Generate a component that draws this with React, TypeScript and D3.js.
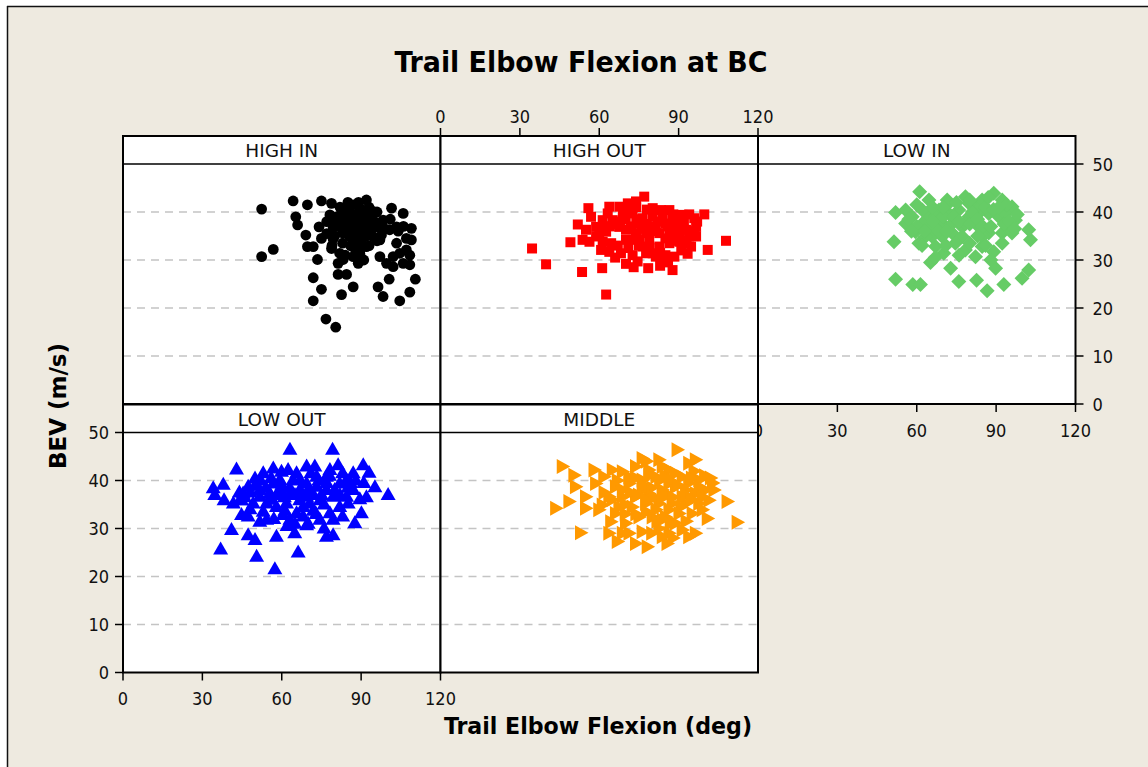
import React from "react";
import * as d3 from "d3";

const title = "Trail Elbow Flexion at BC";
const xTitle = "Trail Elbow Flexion (deg)";
const yTitle = "BEV (m/s)";
const xTicks = [0, 30, 60, 90, 120];
const yTicks = [0, 10, 20, 30, 40, 50];
const gridTicks = [10, 20, 30, 40];
const panelNames = ["HIGH IN", "HIGH OUT", "LOW IN", "LOW OUT", "MIDDLE"];
const panelColors = ["#000000", "#FF0000", "#66CC66", "#0000FF", "#FF9900"];
const panelShapes = ["circle", "square", "diamond", "triUp", "triRight"];

const highIn: [number, number][] = [
  [52.4, 40.6], [52.4, 30.7], [56.8, 32.2], [64.3, 42.3], [65.3, 39.0], [66.0, 37.3], [69.7, 41.5],
  [69.1, 35.2], [69.7, 32.8], [73.5, 30.1], [71.9, 26.3], [75.0, 23.9], [71.9, 21.5], [76.7, 17.7],
  [80.4, 16.0], [75.0, 42.3], [78.8, 41.8], [74.1, 36.9], [75.0, 34.5], [78.8, 32.4], [81.9, 31.4],
  [83.2, 30.1], [81.3, 27.0], [84.5, 27.0], [82.6, 22.8], [87.0, 24.4], [88.9, 29.3], [85.7, 41.1],
  [89.5, 40.8], [94.5, 40.1], [101.5, 40.8], [105.9, 39.7], [109.0, 36.6], [109.0, 34.2], [108.4, 31.0],
  [108.4, 29.0], [110.5, 26.0], [108.4, 23.3], [104.6, 21.5], [98.3, 22.4], [96.4, 24.4], [100.6, 26.0],
  [97.1, 30.7], [99.6, 29.3], [102.1, 28.6], [105.9, 29.3], [104.6, 31.4], [103.4, 33.5], [107.1, 34.5],
  [100.8, 36.3], [98.3, 38.3], [103.4, 36.9], [97.1, 34.2], [94.5, 34.9], [92.0, 32.8], [89.5, 31.4],
  [87.0, 32.8], [90.8, 35.6], [87.0, 36.3], [84.5, 37.6], [81.9, 36.9], [79.4, 36.9], [80.7, 39.0],
  [78.2, 39.4], [82.6, 40.4], [87.0, 39.0], [89.5, 37.6], [92.0, 38.3], [93.3, 36.3], [88.2, 34.5],
  [85.7, 34.9], [89.5, 33.5], [83.2, 35.6], [94.5, 38.3], [92.0, 39.7], [95.8, 36.9], [97.7, 35.2],
  [85.7, 39.7], [88.9, 39.7], [83.8, 39.0], [87.0, 30.7], [107.1, 32.1], [102.1, 30.7],
  [71.9, 32.8], [81.3, 29.3], [79.4, 34.4], [88.2, 37.0], [90.8, 37.0], [85.7, 36.3],
  [82, 38], [84, 38.5], [86, 38], [88, 38.5], [90, 38], [92, 37], [84, 36], [86, 35.5], [88, 35.5],
  [90, 34], [92, 35], [86, 33], [88, 32], [90, 32.5], [83, 33.5], [80, 35], [80, 38], [77, 38],
  [82, 41], [85, 42], [87, 41.5], [91, 40], [95, 37.5], [96, 34], [93, 33], [91, 30], [89, 30],
  [84, 31], [99, 36.5], [104, 36], [106, 37], [101, 38.5], [96, 40], [77, 35.5], [79, 33],
  [93, 41], [89, 42], [92, 42.5],
];

const highOut: [number, number][] = [
  [34.6, 32.4], [39.9, 29.1], [49.1, 33.7], [53.5, 27.5], [61.1, 28.3], [62.6, 22.8], [51.9, 37.4],
  [55.9, 40.8], [53.7, 34.2], [56.3, 33.8], [55.0, 36.3], [58.8, 36.9], [61.3, 38.3], [63.8, 41.1],
  [67.6, 41.1], [70.8, 41.8], [73.9, 42.2], [77.0, 43.2], [80.2, 40.8], [83.3, 40.4], [86.5, 40.4],
  [91.5, 39.4], [95.9, 38.7], [99.7, 39.5], [107.9, 34.0], [101.0, 32.1], [93.4, 31.3], [87.7, 27.9],
  [83.0, 28.8], [78.5, 28.3], [74.5, 29.7], [70.1, 29.2], [68.2, 31.4], [63.8, 31.7], [60.7, 32.1],
  [61.3, 33.8], [64.5, 33.5], [72.6, 31.0], [76.4, 32.8], [80.2, 31.4], [84.0, 30.7], [88.4, 30.7],
  [92.8, 33.5], [96.6, 34.9], [96.6, 36.9], [92.8, 36.3], [89.0, 36.9], [85.2, 37.6], [81.4, 36.9],
  [77.7, 35.6], [73.9, 35.6], [70.1, 36.3], [62.6, 35.9], [65.1, 38.3], [68.9, 39.0],
  [72.6, 39.7], [76.4, 38.7], [80.2, 39.0], [87.7, 38.7], [90.3, 33.8], [86.5, 33.5], [82.7, 32.8],
  [78.9, 34.2], [75.2, 34.2], [70.1, 34.2], [67.6, 36.9], [75.2, 37.6], [82.7, 35.6], [94.0, 34.9],
  [94.7, 32.8], [77.7, 31.4], [81.4, 30.7], [58.8, 34.9], [63.2, 39.7], [56.9, 39.0], [71.4, 40.4],
  [86.5, 35.6], [90.3, 35.6], [72.6, 34.2],
  [66, 37.5], [68, 38], [70, 38.5], [72, 37], [74, 38.5], [76, 36.5], [78, 37.5], [80, 36], [82, 38],
  [84, 39], [86, 37], [88, 35], [90, 37.5], [92, 38], [94, 36], [96, 35.5], [97, 38], [93, 34],
  [89, 34], [85, 34.5], [83, 31.5], [79, 32.5], [75, 33], [71, 32.5], [67, 33], [64, 37], [62, 37],
  [60, 35.5], [69, 40], [74, 41], [78, 40.5], [88, 39.5], [94, 39.5], [85, 31], [91, 32], [86, 29.5],
  [66, 30.5], [73, 28.5],
];

const lowIn: [number, number][] = [
  [61.1, 44.2], [89.1, 43.9], [52.0, 39.9], [51.4, 33.8], [52.0, 26.0], [58.5, 24.9], [61.4, 24.9],
  [65.2, 29.5], [72.8, 28.3], [75.9, 25.5], [82.6, 25.8], [86.6, 23.6], [92.9, 24.9], [89.8, 28.3],
  [99.8, 26.2], [102.3, 27.9], [103.0, 34.2], [102.3, 36.3], [97.3, 38.3], [96.0, 41.1], [92.3, 42.5],
  [78.4, 43.2], [71.5, 42.5], [64.6, 42.5], [55.8, 40.4], [55.8, 37.6], [59.5, 35.9], [60.8, 33.5],
  [67.1, 32.8], [70.2, 31.4], [78.4, 32.1], [82.2, 30.7], [84.7, 32.8], [89.1, 31.7], [92.3, 35.6],
  [96.0, 35.6], [87.2, 35.6], [83.5, 36.9], [79.7, 39.0], [75.9, 40.4], [72.1, 39.7], [68.4, 40.4],
  [64.6, 39.0], [62.1, 37.6], [65.8, 36.9], [69.6, 37.6], [73.4, 37.6], [77.2, 36.9], [73.4, 35.6],
  [69.6, 34.9], [65.8, 34.9], [77.2, 34.9], [84.7, 40.4], [82.2, 41.1], [87.2, 39.7],
  [91.0, 39.0], [93.5, 39.7], [92.3, 33.5], [84.7, 34.9], [74.6, 33.5], [63.3, 34.9], [58.3, 39.0],
  [62.1, 40.4], [72.1, 41.8], [84.7, 42.5], [79.7, 41.8], [94.8, 36.9], [67.1, 39.0], [78.4, 37.6],
  [57, 38.5], [60, 37], [63, 36], [66, 38], [68, 36], [70, 39], [71, 36], [74, 39], [76, 38],
  [80, 37.5], [81, 40], [83, 38.5], [85, 37], [86, 41], [88, 37], [89, 40.5], [93, 37.5],
  [95, 38], [97, 36.5], [98, 39.5], [94, 41.5], [91, 41], [87, 43], [80, 42.5], [75, 42], [70, 41],
  [66, 41], [60, 41.5], [58, 36], [62, 33], [67, 30.5], [71, 33], [76, 31], [80, 33.5], [86, 33],
  [88, 30], [83, 35],
];

const lowOut: [number, number][] = [
  [63.1, 46.4], [79.2, 46.4], [42.9, 42.3], [34.1, 38.4], [37.9, 39.1], [34.7, 37.0], [38.2, 35.9],
  [36.9, 25.6], [41.0, 29.7], [50.5, 24.1], [57.4, 21.5], [66.2, 25.0], [58.0, 28.3], [47.3, 28.6],
  [49.9, 27.6], [64.9, 29.0], [69.4, 30.7], [76.9, 28.3], [79.4, 28.6], [87.6, 31.1], [90.1, 33.2],
  [89.5, 36.1], [100.2, 37.0], [95.2, 38.6], [93.0, 41.6], [90.8, 43.2], [81.3, 43.2], [78.2, 42.2],
  [72.5, 42.9], [69.4, 42.9], [62.4, 42.2], [59.9, 41.8], [56.8, 42.5], [53.0, 41.5], [49.9, 40.4],
  [47.3, 38.7], [44.2, 35.9], [41.7, 35.2], [44.8, 32.8], [47.3, 32.5], [51.7, 31.4], [54.3, 31.8],
  [60.5, 32.8], [63.1, 31.8], [68.1, 32.5], [74.4, 31.8], [78.2, 33.2], [81.9, 34.5], [85.1, 35.2],
  [87.0, 38.0], [84.5, 40.1], [81.9, 39.4], [76.9, 38.0], [73.2, 38.7], [69.4, 39.4], [66.8, 38.0],
  [63.1, 37.3], [59.3, 38.0], [55.5, 37.3], [51.7, 36.6], [49.2, 35.2], [54.3, 35.2], [58.0, 34.5],
  [61.8, 35.2], [66.8, 35.9], [70.6, 35.2], [74.4, 35.9], [79.4, 36.6], [84.5, 36.6], [69.4, 36.6],
  [73.2, 40.8], [64.3, 40.1], [56.8, 39.4], [61.2, 33.7], [71.9, 33.7], [79.4, 31.8], [51.7, 38.0],
  [44.8, 35.9], [87.0, 41.5], [45.4, 37.3], [65.6, 41.5], [76.9, 40.8], [59.3, 40.1], [68.1, 34.5],
  [65.6, 33.2],
  [46, 36.5], [48, 37.5], [50, 39], [52, 40], [54, 38.5], [56, 36], [58, 37], [60, 39], [61, 36.5],
  [63, 38.5], [65, 37], [67, 40], [68, 37], [70, 38], [71, 41.5], [72, 37], [74, 40], [75, 37],
  [76, 35], [77, 39.5], [78, 41], [80, 38], [82, 37], [83, 41.5], [85, 38.5], [86, 39.5], [88, 40],
  [91, 39.5], [92, 36.5], [53, 33.5], [57, 32], [62, 30.5], [65, 31], [70, 31], [73, 33], [76, 30],
  [48, 34], [56, 40.5], [44, 37.5], [83, 32.5],
];

const middle: [number, number][] = [
  [89.6, 46.4], [46.2, 42.9], [43.7, 34.2], [48.7, 35.6], [53.1, 29.1], [50.6, 41.1], [51.2, 38.7],
  [55.0, 36.6], [55.0, 34.2], [58.2, 42.2], [60.0, 33.9], [63.8, 29.0], [67.0, 27.3], [64.5, 31.4],
  [73.9, 26.9], [78.3, 26.2], [85.8, 26.9], [86.5, 29.0], [96.5, 29.0], [94.0, 28.3], [101.0, 32.1],
  [108.5, 35.6], [112.3, 31.3], [102.2, 40.5], [96.5, 44.3], [94.0, 43.6], [82.7, 44.3], [76.4, 44.6],
  [73.9, 42.9], [68.9, 41.8], [65.1, 42.2], [61.9, 40.8], [58.8, 39.4], [66.3, 38.7], [71.4, 39.4],
  [76.4, 40.1], [81.6, 40.8], [86.5, 42.2], [91.5, 40.8], [97.8, 40.1], [100.3, 38.0], [96.5, 37.3],
  [92.8, 38.0], [89.0, 38.7], [84.0, 38.0], [78.9, 37.3], [73.9, 36.6], [68.9, 36.6], [63.8, 36.6],
  [67.6, 34.5], [72.6, 34.5], [77.7, 35.2], [82.7, 35.2], [87.7, 35.2], [92.8, 35.2], [97.8, 35.2],
  [101.6, 35.9], [95.3, 33.1], [90.3, 33.1], [85.2, 32.4], [80.2, 32.4], [75.2, 32.4], [70.1, 31.1],
  [71.4, 29.0], [76.4, 29.3], [82.7, 30.0], [91.5, 29.7], [89.0, 31.1], [84.0, 31.8], [66.3, 33.1],
  [61.3, 34.9], [71.4, 40.8], [78.9, 42.2], [84.0, 42.9], [76.4, 38.0], [86.5, 39.4], [81.6, 33.9],
  [86.5, 33.9], [91.5, 36.6], [103.5, 38.0], [99.1, 33.9], [68.9, 29.0], [84.0, 28.3],
  [62, 37.5], [65, 36], [67, 40], [69, 38], [70, 35], [72, 37.5], [74, 40.5], [75, 37], [77, 39],
  [78, 36], [79, 41], [80, 38.5], [81, 36.5], [83, 40], [84, 36.5], [85, 41], [86, 37], [87, 40],
  [88, 36.5], [89, 41.5], [90, 39], [91, 34.5], [93, 37], [94, 39.5], [95, 36], [96, 42], [98, 38.5],
  [99, 36.5], [74, 33], [78, 33.5], [82, 31.5], [87, 31], [93, 31.5], [80, 29], [88, 28], [70, 33],
  [95, 40.5], [100, 41], [103, 39.5], [78, 44],
];

const panelData = [highIn, highOut, lowIn, lowOut, middle];

const FONT = "'DejaVu Sans Condensed', 'DejaVu Sans', Tahoma, sans-serif";
const FONT_STRIP = "'DejaVu Sans', Tahoma, sans-serif";
const BG = "#EEEAE0";
const colX = [123, 440.5, 758];
const PW = 317.5;
const rowTop = [136, 404.5];
const STRIP = 28;
const PH = 240;

function markerPath(shape: string): string {
  switch (shape) {
    case "square":
      return "M-5,-5H5V5H-5Z";
    case "diamond":
      return "M0,-7.5L7.5,0L0,7.5L-7.5,0Z";
    case "triUp":
      return "M0,-8L7.5,5L-7.5,5Z";
    case "triRight":
      return "M-6,-7.5L7.5,0L-6,7.5Z";
    default:
      return "";
  }
}

function Panel({ idx }: { idx: number }) {
  const col = idx % 3;
  const row = Math.floor(idx / 3);
  const x0 = colX[col];
  const top = rowTop[row];
  const py0 = top + STRIP;
  const x = d3.scaleLinear().domain([0, 120]).range([x0, x0 + PW]);
  const y = d3.scaleLinear().domain([0, 50]).range([py0 + PH, py0]);
  const shape = panelShapes[idx];
  const color = panelColors[idx];
  return (
    <g>
      <rect x={x0} y={top} width={PW} height={STRIP + PH} fill="#fff" />
      {gridTicks.map((t) => (
        <line key={t} x1={x0} x2={x0 + PW} y1={y(t)} y2={y(t)} stroke="#C4C4C4" strokeWidth={1.5} strokeDasharray="8,6" />
      ))}
      {panelData[idx].map(([dx, dy], i) =>
        shape === "circle" ? (
          <circle key={i} cx={x(dx)} cy={y(dy)} r={5.4} fill={color} />
        ) : (
          <path key={i} d={markerPath(shape)} transform={`translate(${x(dx)},${y(dy)})`} fill={color} />
        )
      )}
      <line x1={x0} x2={x0 + PW} y1={py0} y2={py0} stroke="#000" strokeWidth={1.6} />
      <rect x={x0} y={top} width={PW} height={STRIP + PH} fill="none" stroke="#000" strokeWidth={2} />
      <text x={x0 + PW / 2} y={top + 21} textAnchor="middle" fontFamily={FONT_STRIP} fontSize={18.5} fill="#111">
        {panelNames[idx]}
      </text>
    </g>
  );
}

function XAxis({ col, yPos, dir }: { col: number; yPos: number; dir: number }) {
  const x = d3.scaleLinear().domain([0, 120]).range([colX[col], colX[col] + PW]);
  return (
    <g>
      {xTicks.map((t) => (
        <g key={t}>
          <line x1={x(t)} x2={x(t)} y1={yPos} y2={yPos + dir * 8} stroke="#000" strokeWidth={1.5} />
          <text x={x(t)} y={dir > 0 ? yPos + 32.5 : yPos - 13.5} textAnchor="middle" fontFamily={FONT} fontSize={18} fill="#111">
            {t}
          </text>
        </g>
      ))}
    </g>
  );
}

function YAxis({ row, xPos, dir }: { row: number; xPos: number; dir: number }) {
  const py0 = rowTop[row] + STRIP;
  const y = d3.scaleLinear().domain([0, 50]).range([py0 + PH, py0]);
  return (
    <g>
      {yTicks.map((t) => (
        <g key={t}>
          <line x1={xPos} x2={xPos + dir * 8} y1={y(t)} y2={y(t)} stroke="#000" strokeWidth={1.5} />
          <text
            x={dir > 0 ? xPos + 17 : xPos - 14}
            y={y(t) + 6.5}
            textAnchor={dir > 0 ? "start" : "end"}
            fontFamily={FONT}
            fontSize={18}
            fill="#111"
          >
            {t}
          </text>
        </g>
      ))}
    </g>
  );
}

export default function App() {
  return (
    <svg width={1148} height={767} style={{ position: "absolute", left: 0, top: 0 }}>
      <rect x={0} y={0} width={1148} height={767} fill="#fff" />
      <rect x={7} y={6} width={1141} height={761} fill={BG} />
      <line x1={7} x2={1148} y1={6.5} y2={6.5} stroke="#111" strokeWidth={1.5} />
      <line x1={7.5} x2={7.5} y1={6} y2={767} stroke="#111" strokeWidth={1.5} />
      <text x={581} y={72} textAnchor="middle" fontFamily={FONT} fontWeight="bold" fontSize={28} fill="#000" textLength={373} lengthAdjust="spacingAndGlyphs">
        {title}
      </text>
      <Panel idx={0} />
      <Panel idx={1} />
      <Panel idx={2} />
      <XAxis col={1} yPos={136} dir={-1} />
      <YAxis row={0} xPos={colX[2] + PW} dir={1} />
      <XAxis col={2} yPos={rowTop[0] + STRIP + PH} dir={1} />
      <Panel idx={3} />
      <Panel idx={4} />
      <XAxis col={0} yPos={rowTop[1] + STRIP + PH} dir={1} />
      <YAxis row={1} xPos={colX[0]} dir={-1} />
      <text x={598} y={734} textAnchor="middle" fontFamily={FONT} fontWeight="bold" fontSize={23} fill="#000" textLength={308} lengthAdjust="spacingAndGlyphs">
        {xTitle}
      </text>
      <text transform={`translate(66,406) rotate(-90)`} textAnchor="middle" fontFamily={FONT} fontWeight="bold" fontSize={23} fill="#000" textLength={126} lengthAdjust="spacingAndGlyphs">
        {yTitle}
      </text>
    </svg>
  );
}
